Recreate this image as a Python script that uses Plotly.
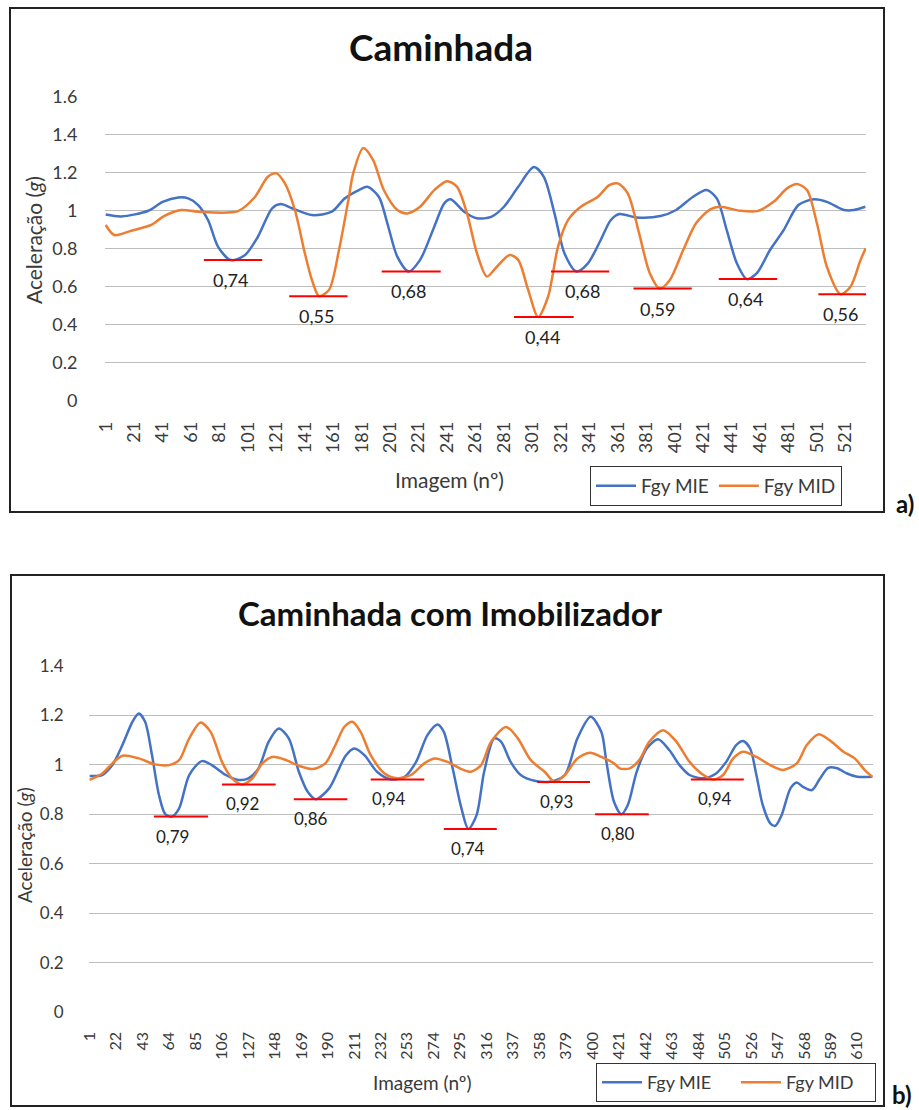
import plotly.graph_objects as go

W, H = 919, 1110
FONT = "Lato"
TXT = "#3a3a3a"
BLUE = "#4472C4"
ORANGE = "#ED7D31"
GRID = "#BDBDBD"

# ---------------- (a) Caminhada ----------------
frames_a_mie = [1, 12, 31, 41, 52, 59, 66, 73, 80, 89, 99, 108, 118, 124, 132, 146,
                160, 169, 179, 185, 193, 199, 206, 214, 222, 232, 239, 243.5, 253, 262,
                272, 281, 291, 302, 309, 316.5, 323.5, 332, 340, 349, 356, 362, 374,
                391, 402, 414, 423.5, 430.6, 437.6, 444.7, 451.7, 458.8, 468, 477.6,
                488, 499, 508, 520, 527, 535]
acc_a_mie = [0.98, 0.97, 1.00, 1.047, 1.07, 1.065, 1.03, 0.95, 0.81, 0.74, 0.767, 0.863,
             1.013, 1.035, 1.013, 0.977, 0.995, 1.065, 1.109, 1.126, 1.074, 0.934, 0.758,
             0.68, 0.741, 0.916, 1.039, 1.06, 0.995, 0.96, 0.968, 1.021, 1.126, 1.23,
             1.179, 0.986, 0.776, 0.68, 0.723, 0.846, 0.95, 0.983, 0.965, 0.972, 1.004,
             1.074, 1.109, 1.065, 0.898, 0.723, 0.64, 0.671, 0.793, 0.898, 1.03, 1.06,
             1.047, 1.004, 1.004, 1.021]

frames_a_mid = [1, 7, 19, 33, 42, 54, 66, 94, 106, 115, 121, 127, 134, 141, 146, 151,
                158, 165, 172, 175, 182, 189, 196.5, 206, 213, 222, 232, 241, 248, 255,
                262, 269, 276, 285, 291, 298, 305, 312, 319, 326, 335, 347, 355, 361,
                368, 376, 383.5, 390.6, 397.6, 407, 416, 426, 433, 447, 459, 470.5, 480,
                487, 494, 501, 508, 517.6, 524.6, 531.7, 535.3]
acc_a_mid = [0.925, 0.872, 0.895, 0.925, 0.972, 1.004, 0.995, 0.998, 1.074, 1.179, 1.197,
             1.144, 1.004, 0.776, 0.635, 0.55, 0.583, 0.793, 1.074, 1.197, 1.33, 1.267,
             1.109, 1.004, 0.986, 1.021, 1.109, 1.156, 1.126, 0.986, 0.776, 0.653, 0.705,
             0.767, 0.741, 0.583, 0.44, 0.547, 0.811, 0.951, 1.021, 1.074, 1.135, 1.144,
             1.092, 0.881, 0.671, 0.59, 0.635, 0.793, 0.934, 1.007, 1.021, 1.0, 0.998,
             1.047, 1.118, 1.141, 1.109, 0.934, 0.705, 0.56, 0.6, 0.741, 0.802]

ticks_a = [1, 21, 41, 61, 81, 101, 121, 141, 161, 181, 201, 221, 241, 261, 281, 301,
           321, 341, 361, 381, 401, 421, 441, 461, 481, 501, 521]

# marked minima: value, line start/end frame, label frame
min_a_value = [0.74, 0.55, 0.68, 0.44, 0.68, 0.59, 0.64, 0.56]
min_a_start = [70, 130, 195, 288, 314, 372, 432, 502]
min_a_end = [111, 171, 236.5, 330, 355, 413, 473, 535.5]
min_a_label = [89, 149, 214, 308, 336, 389, 451, 517.6]

# ---------------- (b) Caminhada com Imobilizador ----------------
frames_b_mie = [1, 11, 19, 27, 35, 40, 45, 50.5, 56, 61, 66.4, 72, 80, 90, 98, 109, 119,
                127, 135, 143, 151, 159, 167, 174, 180.4, 191, 199, 204, 211, 219, 229,
                240, 251, 260, 269, 277, 282, 289, 296, 301.5, 308, 314, 322, 327.5, 335,
                343, 354, 367, 378, 388, 398.5, 407, 411, 417, 422.8, 428, 435, 443, 452,
                461, 469, 477, 488, 498, 506, 514, 519.5, 525, 530, 535, 541, 545, 550,
                557, 562, 567, 574, 580.5, 587, 594, 602, 610, 622]
acc_b_mie = [0.954, 0.958, 0.998, 1.079, 1.173, 1.206, 1.173, 1.038, 0.877, 0.80, 0.79,
             0.823, 0.958, 1.014, 0.998, 0.958, 0.938, 0.944, 0.985, 1.092, 1.146, 1.106,
             0.971, 0.89, 0.86, 0.904, 0.985, 1.035, 1.065, 1.038, 0.971, 0.94, 0.951,
             1.011, 1.119, 1.162, 1.132, 0.985, 0.823, 0.74, 0.796, 0.971, 1.106, 1.092,
             1.011, 0.958, 0.935, 0.932, 0.958, 1.106, 1.193, 1.132, 1.011, 0.85, 0.80,
             0.837, 0.971, 1.065, 1.102, 1.058, 0.998, 0.958, 0.945, 0.964, 1.011, 1.079,
             1.095, 1.065, 0.958, 0.837, 0.763, 0.753, 0.796, 0.904, 0.928, 0.91, 0.897,
             0.944, 0.987, 0.985, 0.964, 0.951, 0.951]

frames_b_mid = [1, 11, 19, 27, 40, 53, 64, 72, 80, 89, 97, 106, 114, 122, 130, 138, 146,
                157, 167, 178, 188, 196, 203, 209.5, 216, 224, 235, 245, 256, 266.5,
                274.5, 285, 296, 303.6, 311.6, 319.5, 331.4, 340.7, 351, 362, 370, 378,
                388, 398, 407, 417, 421.5, 429.5, 437, 445, 456, 466.6, 477, 488, 495.7,
                503.6, 511.6, 519.5, 530, 541, 551, 562, 570, 579, 588, 599, 608, 616, 622]
acc_b_mid = [0.938, 0.964, 1.005, 1.036, 1.025, 1.001, 0.998, 1.018, 1.106, 1.17, 1.132,
             1.011, 0.944, 0.92, 0.944, 1.005, 1.031, 1.018, 0.995, 0.982, 1.005, 1.079,
             1.152, 1.173, 1.132, 1.038, 0.964, 0.945, 0.958, 1.005, 1.025, 1.011, 0.982,
             0.971, 0.998, 1.092, 1.152, 1.106, 1.018, 0.971, 0.93, 0.958, 1.025, 1.048,
             1.031, 1.005, 0.985, 0.985, 1.018, 1.092, 1.139, 1.092, 1.011, 0.958, 0.94,
             0.958, 1.025, 1.052, 1.031, 0.998, 0.978, 1.005, 1.079, 1.122, 1.099, 1.052,
             1.025, 0.978, 0.951]

ticks_b = [1, 22, 43, 64, 85, 106, 127, 148, 169, 190, 211, 232, 253, 274, 295, 316,
           337, 358, 379, 400, 421, 442, 463, 484, 505, 526, 547, 568, 589, 610]

min_b_value = [0.79, 0.92, 0.86, 0.94, 0.74, 0.93, 0.80, 0.94]
min_b_start = [52, 106, 163, 224, 282, 356, 402, 478]
min_b_end = [95, 148.6, 205.5, 266.5, 324, 398, 444.6, 520]
min_b_label = [66.6, 122, 176.4, 238.7, 301, 371.7, 420, 497]


def px(x):
    return x / W


def py(y):
    return 1 - y / H


fig = go.Figure()

line_kw = dict(mode="lines", line_shape="spline")
fig.add_trace(go.Scatter(x=frames_a_mie, y=acc_a_mie, name="Fgy MIE", xaxis="x", yaxis="y",
                         line=dict(color=BLUE, width=2.5, smoothing=0.8), legend="legend", **line_kw))
fig.add_trace(go.Scatter(x=frames_a_mid, y=acc_a_mid, name="Fgy MID", xaxis="x", yaxis="y",
                         line=dict(color=ORANGE, width=2.5, smoothing=0.8), legend="legend", **line_kw))
fig.add_trace(go.Scatter(x=frames_b_mie, y=acc_b_mie, name="Fgy MIE", xaxis="x2", yaxis="y2",
                         line=dict(color=BLUE, width=2.5, smoothing=0.8), legend="legend2", **line_kw))
fig.add_trace(go.Scatter(x=frames_b_mid, y=acc_b_mid, name="Fgy MID", xaxis="x2", yaxis="y2",
                         line=dict(color=ORANGE, width=2.5, smoothing=0.8), legend="legend2", **line_kw))

shapes = []
annotations = []


def fmt(v):
    return f"{v:.2f}".replace(".", ",")


# minimum markers: red segment and value label beneath
for vals, starts, ends, labs, xr, yr, fs in [
    (min_a_value, min_a_start, min_a_end, min_a_label, "x", "y", 18),
    (min_b_value, min_b_start, min_b_end, min_b_label, "x2", "y2", 17),
]:
    for v, s, e, lx in zip(vals, starts, ends, labs):
        shapes.append(dict(type="line", xref=xr, yref=yr, x0=s, x1=e, y0=v, y1=v,
                           line=dict(color="#FF0000", width=2)))
        annotations.append(dict(xref=xr, yref=yr, x=lx, y=v, text=fmt(v), showarrow=False,
                                yanchor="top", yshift=-7,
                                font=dict(family=FONT, size=fs, color="#222222")))

# chart frames
shapes.append(dict(type="rect", xref="paper", yref="paper", x0=px(10), x1=px(884),
                   y0=py(512), y1=py(8), line=dict(color="#222222", width=2)))
shapes.append(dict(type="rect", xref="paper", yref="paper", x0=px(11), x1=px(884),
                   y0=py(1106), y1=py(575), line=dict(color="#222222", width=2)))


def text(x, y, t, size, bold=False, angle=0, color=TXT):
    annotations.append(dict(xref="paper", yref="paper", x=px(x), y=py(y), text=t,
                            showarrow=False, xanchor="center", yanchor="middle",
                            textangle=angle,
                            font=dict(family=FONT, size=size, color=color,
                                      weight="bold" if bold else "normal")))


text(441, 46, "Caminhada", 37, bold=True, color="#111111")
text(450, 613, "Caminhada com Imobilizador", 33, bold=True, color="#111111")
text(449, 479, "Imagem (nº)", 21)
text(33, 240, "Aceleração (<i>g</i>)", 21, angle=-90)
text(422, 1082, "Imagem (nº)", 19)
text(24, 845, "Aceleração (<i>g</i>)", 19, angle=-90)
text(905, 503, "a)", 24, bold=True, color="#111111")
text(902, 1094, "b)", 24, bold=True, color="#111111")

yvals_a = [0, 0.2, 0.4, 0.6, 0.8, 1, 1.2, 1.4, 1.6]
ylab_a = ["0", "0.2", "0.4", "0.6", "0.8", "1", "1.2", "1.4", "1.6"]
yvals_b = [0, 0.2, 0.4, 0.6, 0.8, 1, 1.2, 1.4]
ylab_b = ["0", "0.2", "0.4", "0.6", "0.8", "1", "1.2", "1.4"]

common_x = dict(showgrid=False, zeroline=False, showline=False, ticks="outside",
                tickcolor="rgba(0,0,0,0)", tickangle=-90, tickmode="array")
common_y = dict(showgrid=True, gridcolor=GRID, gridwidth=1, zeroline=False, showline=False,
                ticks="outside", tickcolor="rgba(0,0,0,0)", tickmode="array")

fig.update_layout(
    width=W, height=H, margin=dict(l=0, r=0, t=0, b=0, autoexpand=False),
    paper_bgcolor="white", plot_bgcolor="white",
    xaxis=dict(domain=[px(105), px(866)], anchor="y", range=[0.5, 535.5],
               tickvals=ticks_a, ticktext=[str(t) for t in ticks_a], ticklen=13,
               tickfont=dict(family=FONT, size=18, color=TXT), **common_x),
    yaxis=dict(domain=[py(400.7), py(96.7)], anchor="x", range=[-0.001, 1.601],
               tickvals=yvals_a, ticktext=ylab_a, ticklen=23,
               tickfont=dict(family=FONT, size=18, color=TXT), **common_y),
    xaxis2=dict(domain=[px(89), px(873)], anchor="y2", range=[0.5, 622.5],
                tickvals=ticks_b, ticktext=[str(t) for t in ticks_b], ticklen=12,
                tickfont=dict(family=FONT, size=16, color=TXT), **common_x),
    yaxis2=dict(domain=[py(1012.5), py(665.3)], anchor="x2", range=[-0.001, 1.401],
                tickvals=yvals_b, ticktext=ylab_b, ticklen=21,
                tickfont=dict(family=FONT, size=17, color=TXT), **common_y),
    legend=dict(x=px(590), y=py(466), xanchor="left", yanchor="top", orientation="h",
                bordercolor="#333333", borderwidth=1, bgcolor="white",
                font=dict(family=FONT, size=19, color=TXT), itemwidth=40),
    legend2=dict(x=px(596), y=py(1063), xanchor="left", yanchor="top", orientation="h",
                 bordercolor="#333333", borderwidth=1, bgcolor="white",
                 font=dict(family=FONT, size=18, color=TXT), itemwidth=40,
                 entrywidth=84, entrywidthmode="pixels"),
    shapes=shapes, annotations=annotations, showlegend=True,
)

fig.write_html("out.html")
